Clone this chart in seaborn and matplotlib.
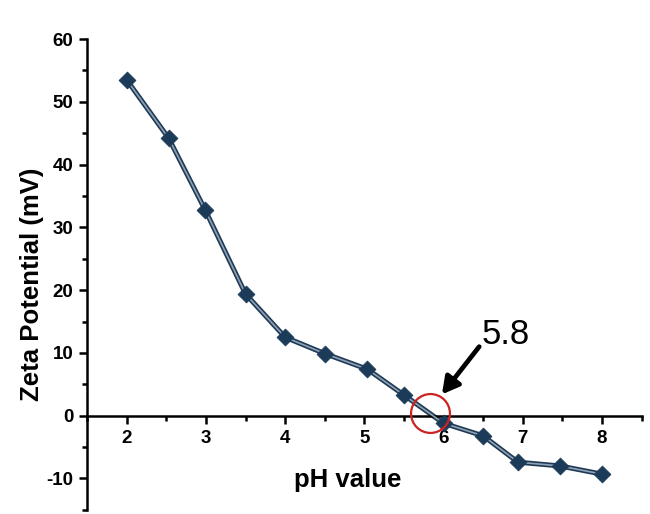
import numpy as np
import pandas as pd
import matplotlib
matplotlib.use("Agg")
import matplotlib.pyplot as plt
import seaborn as sns
from matplotlib.ticker import MultipleLocator

# pH vs zeta potential
ph = [2.0, 2.53, 2.99, 3.5, 4.0, 4.5, 5.04, 5.5, 6.0, 6.5, 6.94, 7.47, 8.0]
zeta = [53.5, 44.2, 32.8, 19.4, 12.5, 9.9, 7.4, 3.3, -1.2, -3.2, -7.4, -8.0, -9.3]
iep = 5.8

df = pd.DataFrame({"ph": ph, "zeta": zeta})

sns.set_style("ticks")
plt.rcParams['font.family'] = ['Liberation Sans', 'DejaVu Sans']
plt.rcParams['axes.unicode_minus'] = False
plt.rcParams['text.color'] = 'black'
plt.rcParams['xtick.color'] = 'black'
plt.rcParams['ytick.color'] = 'black'
plt.rcParams['axes.labelcolor'] = 'black'

fig = plt.figure(figsize=(6.5, 5.14), dpi=100)
ax = fig.add_axes([0.134, 0.008, 0.853, 0.916])

# dark line with a lighter core
sns.lineplot(data=df, x="ph", y="zeta", color="#1f3a56", linewidth=3.6, ax=ax, zorder=2)
sns.lineplot(data=df, x="ph", y="zeta", color="#8ea2b4", linewidth=1.2, ax=ax, zorder=3)
sns.scatterplot(data=df, x="ph", y="zeta", marker="D", s=75, color="#1c3b58",
                edgecolor="#1c3b58", linewidth=0.5, ax=ax, zorder=4)

# isoelectric point circle + arrow
ax.plot([iep + 0.03], [0.5], marker="o", markersize=28, markerfacecolor="none",
        markeredgecolor="#cc2222", markeredgewidth=1.6, zorder=5)
ax.annotate("", xy=(5.98, 3.4), xytext=(6.45, 11.0),
            arrowprops=dict(arrowstyle="-|>,head_width=0.55,head_length=1.0",
                            color="black", lw=3.4, shrinkA=0, shrinkB=0))
ax.text(6.78, 13.0, "5.8", fontsize=25, ha="center", va="center", color="black")

ax.set_xlim(1.5, 8.5)
ax.set_ylim(-15, 60)
ax.xaxis.set_major_locator(MultipleLocator(1))
ax.xaxis.set_minor_locator(MultipleLocator(0.5))
ax.yaxis.set_major_locator(MultipleLocator(10))
ax.yaxis.set_minor_locator(MultipleLocator(5))
ax.set_xticks([2, 3, 4, 5, 6, 7, 8])

ax.spines["right"].set_visible(False)
ax.spines["top"].set_visible(False)
ax.spines["bottom"].set_position(("data", 0))
for s in ["left", "bottom"]:
    ax.spines[s].set_linewidth(1.8)
    ax.spines[s].set_color("black")

ax.tick_params(which="major", direction="out", length=6, width=1.8, labelsize=13.5, pad=4)
ax.tick_params(which="minor", direction="out", length=3.5, width=1.8)
for lab in ax.get_xticklabels() + ax.get_yticklabels():
    lab.set_fontweight("bold")

ax.set_xlabel("pH value", fontsize=18.5, fontweight="bold")
ax.xaxis.set_label_coords(0.47, 0.088)
ax.set_ylabel("Zeta Potential (mV)", fontsize=18.5, fontweight="bold")
ax.yaxis.set_label_coords(-0.077, 0.48)

fig.savefig("out.png", dpi=100)
